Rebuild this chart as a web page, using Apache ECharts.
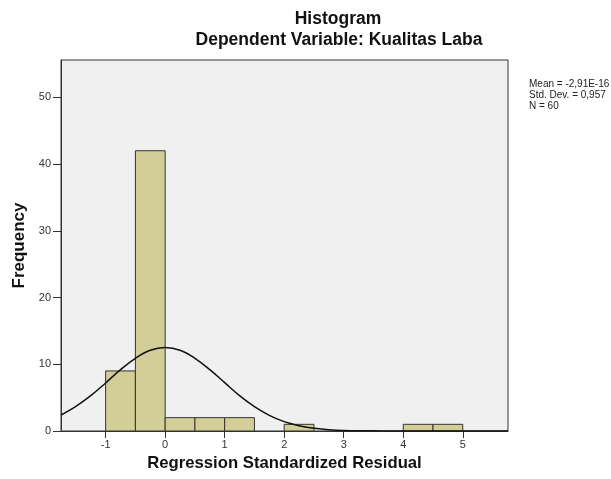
<!DOCTYPE html>
<html>
<head>
<meta charset="utf-8">
<script src="https://cdn.jsdelivr.net/npm/echarts@6/dist/echarts.min.js"></script>
<style>
html,body{margin:0;padding:0;background:#fff;}
#c{width:611px;height:479px;}
</style>
</head>
<body>
<div id="c"></div>
<script>
// ---- data ----
var binStart = [-1, -0.5, 0, 0.5, 1, 2, 4, 4.5];
var binEnd   = [-0.5, 0, 0.5, 1, 1.5, 2.5, 4.5, 5];
var counts   = [9, 42, 2, 2, 2, 1, 1, 1];

var curveX = [-1.75, -1.5, -1.25, -1, -0.75, -0.5, -0.25, 0, 0.25, 0.5, 0.75, 1, 1.25, 1.5, 1.75, 2, 2.25, 2.5, 2.75, 3, 3.25, 3.5, 3.75, 4, 4.5, 5, 5.5, 5.76];
var curveY = [2.4, 3.7, 5.3, 7.2, 9.2, 10.9, 12.1, 12.5, 12.1, 10.9, 9.2, 7.25, 5.3, 3.65, 2.35, 1.4, 0.8, 0.4, 0.2, 0.09, 0.04, 0.02, 0.01, 0, 0, 0, 0, 0];

var xTicks = [-1, 0, 1, 2, 3, 4, 5];
var yTicks = [0, 10, 20, 30, 40, 50];

var titleText = 'Histogram';
var subText = 'Dependent Variable: Kualitas Laba';
var statsLines = ['Mean = -2,91E-16', 'Std. Dev. = 0,957', 'N = 60'];
var xName = 'Regression Standardized Residual';
var yName = 'Frequency';

// ---- build ----
var FONT = '"Liberation Sans", Arial, sans-serif';
var bins = binStart.map(function (s, i) { return [s, binEnd[i], counts[i]]; });
var curve = curveX.map(function (x, i) { return [x, curveY[i]]; });

var chart = echarts.init(document.getElementById('c'), null, {renderer: 'canvas'});
chart.setOption({
  animation: false,
  backgroundColor: '#ffffff',
  textStyle: {fontFamily: FONT},
  grid: {
    left: 61, right: 103, top: 60, bottom: 48,
    show: true, backgroundColor: '#f0f0f0', borderColor: '#333333', borderWidth: 1
  },
  graphic: [
    {type: 'text', style: {text: titleText, font: 'bold 17.5px ' + FONT, fill: '#111', align: 'center', verticalAlign: 'middle'}, x: 338, y: 19},
    {type: 'text', style: {text: subText, font: 'bold 17.5px ' + FONT, fill: '#111', align: 'center', verticalAlign: 'middle'}, x: 339, y: 40},
    {type: 'text', style: {text: statsLines.join('\n'), font: '10px ' + FONT, fill: '#222', lineHeight: 11, align: 'left', verticalAlign: 'top'}, x: 529, y: 79}
  ],
  xAxis: {
    type: 'value', min: -1.75, max: 5.76,
    splitLine: {show: false},
    axisLine: {show: true, onZero: false, lineStyle: {color: '#333', width: 1}},
    axisTick: {show: true, length: 7, lineStyle: {color: '#333'}, customValues: xTicks},
    axisLabel: {customValues: xTicks, color: '#333', fontSize: 11, margin: 8, fontFamily: FONT},
    name: xName, nameLocation: 'middle', nameGap: 24,
    nameTextStyle: {fontSize: 16.7, fontWeight: 'bold', color: '#111', fontFamily: FONT, verticalAlign: 'top'}
  },
  yAxis: {
    type: 'value', min: 0, max: 55.6,
    splitLine: {show: false},
    axisLine: {show: true, onZero: false, lineStyle: {color: '#333', width: 1}},
    axisTick: {show: true, length: 8, lineStyle: {color: '#333'}, customValues: yTicks},
    axisLabel: {customValues: yTicks, color: '#333', fontSize: 11, margin: 10, fontFamily: FONT},
    name: yName, nameLocation: 'middle', nameGap: 32, nameRotate: 90,
    nameTextStyle: {fontSize: 17, fontWeight: 'bold', color: '#111', fontFamily: FONT}
  },
  series: [
    {
      type: 'custom',
      data: bins,
      renderItem: function (params, api) {
        var p0 = api.coord([api.value(0), api.value(2)]);
        var p1 = api.coord([api.value(1), 0]);
        return {
          type: 'rect',
          shape: {x: p0[0], y: p0[1], width: p1[0] - p0[0], height: p1[1] - p0[1]},
          style: {fill: '#d3ce97', stroke: '#333333', lineWidth: 1}
        };
      },
      encode: {x: [0, 1], y: 2},
      silent: true
    },
    {
      type: 'line',
      data: curve,
      smooth: 0.4,
      showSymbol: false,
      symbol: 'none',
      lineStyle: {color: '#111', width: 1.5},
      clip: true,
      silent: true
    }
  ]
});
</script>
</body>
</html>
